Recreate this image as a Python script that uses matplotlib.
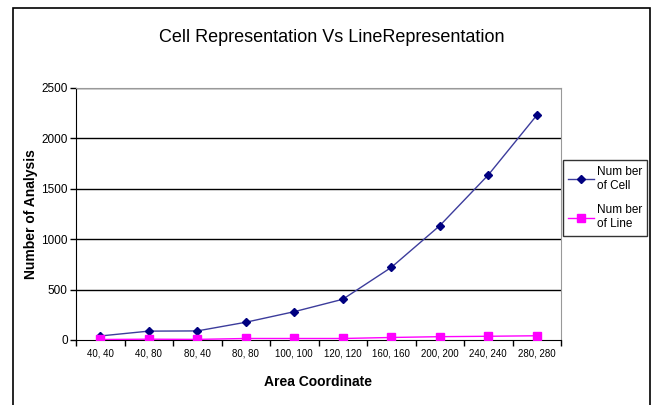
import matplotlib
matplotlib.use("Agg")
import matplotlib.pyplot as plt
from matplotlib.patches import Rectangle
import numpy as np

plt.rcParams['font.family'] = ['Liberation Sans', 'DejaVu Sans']

categories = ["40, 40", "40, 80", "80, 40", "80, 80", "100, 100",
              "120, 120", "160, 160", "200, 200", "240, 240", "280, 280"]
cell_counts = [40, 88, 90, 176, 281, 404, 720, 1134, 1637, 2229]
line_counts = [5, 8, 6, 15, 15, 15, 25, 33, 37, 42]
y_ticks = [0, 500, 1000, 1500, 2000, 2500]

W, H = 656, 405
fig = plt.figure(figsize=(W / 100, H / 100), dpi=100)

# outer chart frame (open at the bottom edge)
fig.add_artist(Rectangle((13 / W, -0.05), (650 - 13) / W, (H - 8) / H + 0.05,
                         transform=fig.transFigure, fill=False,
                         edgecolor="black", linewidth=1.2))

left, right, top, bottom = 76, 561, 88, 340
ax = fig.add_axes([left / W, 1 - bottom / H, (right - left) / W, (bottom - top) / H])

x = np.arange(len(categories)) + 0.5
ax.plot(x, cell_counts, color="#3c3c9c", linewidth=1.0, marker="D",
        markersize=4.5, markerfacecolor="#000080", markeredgecolor="#000080",
        label="Num ber\nof Cell", zorder=3)
ax.plot(x, line_counts, color="#ff00ff", linewidth=1.0, marker="s",
        markersize=5.5, markerfacecolor="#ff00ff", markeredgecolor="#ff00ff",
        label="Num ber\nof Line", zorder=3)

ax.set_xlim(0, len(categories))
ax.set_ylim(0, 2500)
ax.set_yticks(y_ticks)
ax.set_yticklabels([str(v) for v in y_ticks], fontsize=8.5)
ax.set_xticks(np.arange(len(categories) + 1))
ax.set_xticklabels([])
ax.set_xticks(x, minor=True)
ax.set_xticklabels(categories, minor=True, fontsize=7)
ax.tick_params(axis="x", which="minor", length=0, pad=6)
ax.tick_params(axis="x", which="major", direction="out", length=4, width=1)
ax.tick_params(axis="y", direction="out", length=4, width=1, pad=2)

for yv in y_ticks[1:]:
    ax.axhline(yv, color="black", linewidth=1.0, zorder=1)

ax.spines["left"].set_color("black")
ax.spines["bottom"].set_color("black")
ax.spines["right"].set_color("#999999")
ax.spines["top"].set_color("#999999")

ax.set_xlabel("Area Coordinate", fontsize=10, fontweight="bold", labelpad=12)
ax.set_ylabel("Number of Analysis", fontsize=10, fontweight="bold", labelpad=2)

fig.text(332 / W, 1 - 38 / H, "Cell Representation Vs LineRepresentation",
         ha="center", va="center", fontsize=13)

leg = ax.legend(loc="center left", bbox_to_anchor=(563 / W, 1 - 198 / H),
                bbox_transform=fig.transFigure, fontsize=8.5, frameon=True,
                fancybox=False, edgecolor="black", handlelength=2.2,
                borderpad=0.45, labelspacing=1.1, handletextpad=0.2,
                borderaxespad=0)
leg.get_frame().set_linewidth(1.0)

fig.savefig("out.png", dpi=100)
